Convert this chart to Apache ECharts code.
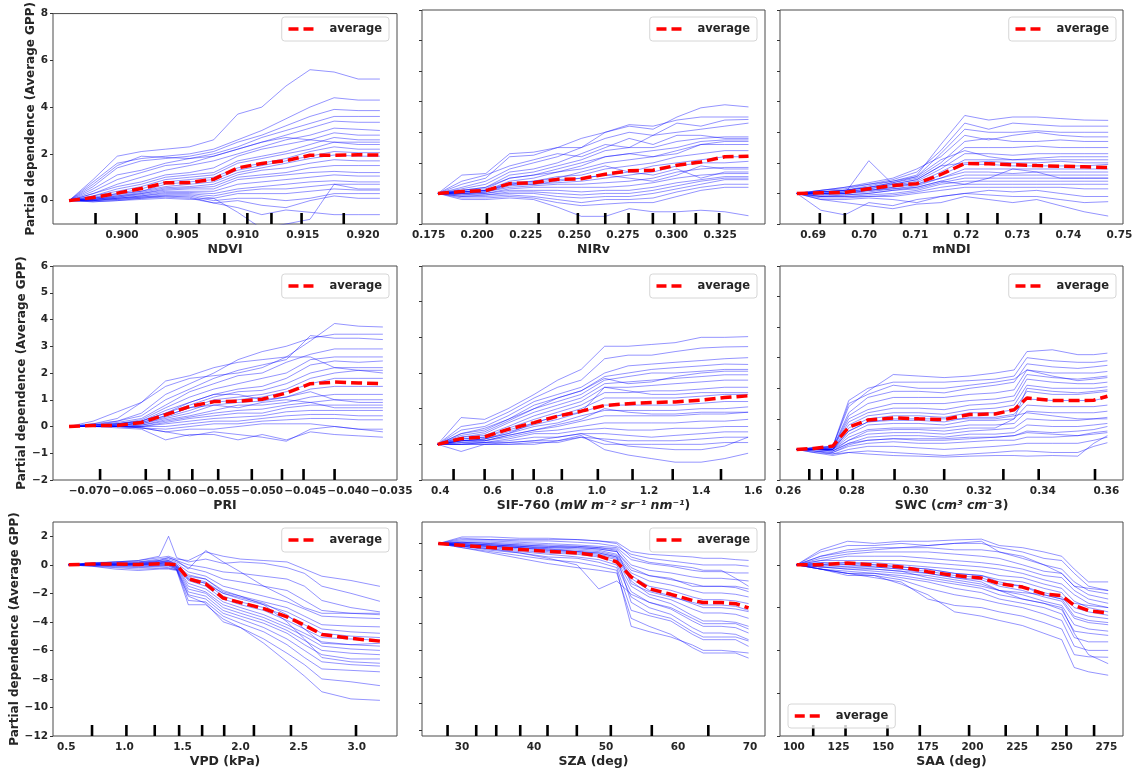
<!DOCTYPE html>
<html><head><meta charset="utf-8">
<script src="https://cdn.jsdelivr.net/npm/echarts@6/dist/echarts.min.js"></script>
<style>html,body{margin:0;padding:0;background:#fff}#c{width:1141px;height:774px}</style>
</head><body><div id="c"></div>
<script>
// ---------------- DATA ----------------
const yLabel = 'Partial dependence (Average GPP)';

// NDVI
const ndviX = [0.8956,0.8976,0.8996,0.9016,0.9036,0.9056,0.9076,0.9096,0.9116,0.9136,0.9156,0.9176,0.9196,0.9214];
const ndviAvg = [0,0.13,0.32,0.52,0.76,0.77,0.91,1.40,1.59,1.71,1.94,1.94,1.96,1.95];
const ndviIce = [
 [0,0.9,1.9,2.1,2.2,2.3,2.6,3.7,4.0,4.9,5.6,5.5,5.2,5.2],
 [0,0.8,1.6,1.8,1.9,2.0,2.2,2.6,3.0,3.5,4.0,4.4,4.3,4.3],
 [0,0.6,1.4,1.7,1.8,1.9,2.1,2.5,2.8,3.2,3.6,3.9,3.85,3.85],
 [0,0.5,1.1,1.3,1.6,1.8,2.0,2.3,2.7,3.0,3.3,3.6,3.6,3.6],
 [0,0.4,0.9,1.2,1.5,1.6,1.9,2.2,2.5,2.8,3.1,3.4,3.35,3.35],
 [0,0.3,0.7,1.0,1.3,1.5,1.7,2.0,2.3,2.6,2.8,3.1,3.05,3.0],
 [0,0.3,0.6,0.8,1.1,1.2,1.4,1.9,2.2,2.4,2.6,2.9,2.8,2.8],
 [0,0.2,0.5,0.7,1.0,1.1,1.2,1.7,1.9,2.1,2.4,2.7,2.6,2.6],
 [0,0.2,0.4,0.6,0.9,1.0,1.1,1.6,1.8,2.0,2.2,2.5,2.4,2.4],
 [0,0.15,0.3,0.5,0.8,0.9,1.0,1.4,1.6,1.8,2.1,2.3,2.2,2.2],
 [0,0.1,0.3,0.4,0.7,0.8,0.9,1.3,1.5,1.7,1.9,2.1,2.05,2.05],
 [0,0.1,0.25,0.4,0.6,0.7,0.8,1.2,1.4,1.6,1.8,1.95,1.9,1.9],
 [0,0.1,0.2,0.35,0.55,0.6,0.7,1.1,1.3,1.4,1.6,1.75,1.7,1.7],
 [0,0.05,0.2,0.3,0.5,0.55,0.6,1.0,1.1,1.2,1.4,1.5,1.5,1.5],
 [0,0.05,0.15,0.3,0.45,0.5,0.5,0.9,1.0,1.1,1.2,1.25,1.2,1.2],
 [0,0.05,0.15,0.25,0.4,0.4,0.4,0.7,0.8,0.9,1.0,1.1,1.05,1.05],
 [0,0.05,0.1,0.2,0.35,0.35,0.3,0.5,0.6,0.7,0.8,0.85,0.8,0.8],
 [0,0,0.1,0.2,0.3,0.3,0.2,0.4,0.5,0.5,0.6,0.7,0.7,0.7],
 [0,0,0.1,0.15,0.25,0.25,0.1,0.3,0.3,0.3,0.4,0.5,0.45,0.45],
 [0,0,0.05,0.15,0.2,0.2,0.0,0.1,0.1,0.0,0.1,0.3,0.3,0.3],
 [0,0,0.05,0.1,0.2,0.15,-0.1,0.0,-0.2,-0.3,0.0,0.2,0.1,0.1],
 [0,-0.05,0.0,0.1,0.15,0.1,-0.1,-0.3,-0.6,-0.4,-0.5,-0.6,-0.6,-0.6],
 [0,-0.05,0.0,0.05,0.1,0.05,0.1,-0.5,-1.2,-1.0,-0.8,0.7,0.5,0.5],
 [0,0.7,1.5,1.9,1.85,1.8,1.9,2.2,2.5,2.7,2.6,2.5,2.5,2.5]
];
const ndviDeciles = [0.8978,0.9012,0.9045,0.9064,0.9085,0.9104,0.9124,0.9149,0.9184];
const ndviTicks = [0.900,0.905,0.910,0.915,0.920];

// NIRv
const nirvX = [0.1798,0.1921,0.2044,0.2167,0.2290,0.2413,0.2536,0.2659,0.2782,0.2905,0.3028,0.3151,0.3274,0.3396];
const nirvAvg = [0,0.06,0.09,0.32,0.35,0.46,0.48,0.63,0.74,0.76,0.92,1.03,1.20,1.22];
const nirvIce = [
 [0,0.6,0.65,1.3,1.35,1.5,1.8,2.0,2.2,2.1,2.5,2.8,2.9,2.83],
 [0,0.3,0.5,1.2,1.25,1.5,1.5,2.0,2.25,2.2,2.4,2.5,2.5,2.5],
 [0,0.2,0.4,0.8,1.0,1.2,1.5,1.8,2.0,1.9,2.3,2.2,2.4,2.42],
 [0,0.15,0.3,0.7,0.8,1.0,1.3,1.6,1.5,1.9,2.0,2.1,2.2,2.3],
 [0,0.1,0.2,0.6,0.7,0.9,1.1,1.4,1.5,1.5,1.7,1.8,1.85,1.85],
 [0,0.1,0.15,0.5,0.6,0.8,1.0,1.2,1.3,1.4,1.5,1.7,1.75,1.75],
 [0,0.05,0.1,0.4,0.5,0.7,0.8,1.0,1.1,1.2,1.4,1.6,1.6,1.6],
 [0,0.05,0.1,0.35,0.4,0.55,0.6,0.8,0.9,1.0,1.2,1.3,1.4,1.4],
 [0,0.05,0.1,0.3,0.35,0.45,0.5,0.6,0.7,0.9,1.0,1.1,1.2,1.2],
 [0,0,0.05,0.25,0.3,0.35,0.4,0.5,0.6,0.7,0.9,1.0,1.0,1.05],
 [0,0,0.05,0.2,0.25,0.3,0.3,0.35,0.4,0.5,0.7,0.8,0.85,0.85],
 [0,0,0,0.15,0.2,0.2,0.2,0.2,0.25,0.35,0.5,0.6,0.65,0.65],
 [0,-0.05,0,0.1,0.1,0.1,0.05,0.1,0.1,0.2,0.35,0.45,0.55,0.55],
 [0,-0.05,-0.05,0.05,0.05,0,-0.05,0,0,0.1,0.25,0.4,0.5,0.5],
 [0,-0.1,-0.05,0,0,-0.1,-0.15,-0.1,-0.1,0,0.15,0.3,0.45,0.45],
 [0,-0.1,-0.1,-0.05,-0.1,-0.2,-0.3,-0.2,-0.2,-0.15,0.05,0.2,0.3,0.3],
 [0,-0.15,-0.15,-0.1,-0.15,-0.3,-0.4,-0.35,-0.3,-0.3,-0.1,0.1,0.2,0.2],
 [0,-0.2,-0.2,-0.15,-0.2,-0.45,-0.75,-0.75,-0.5,-0.6,-0.6,-0.55,-0.6,-0.73],
 [0,0.4,0.6,0.9,1.1,1.3,1.2,1.5,1.8,1.6,1.9,1.9,1.8,1.8],
 [0,0,0.05,0.3,0.4,0.5,0.7,0.9,0.7,0.6,0.8,0.5,0.7,0.7],
 [0,0.1,0.2,0.5,0.6,0.7,0.9,1.2,1.3,1.2,1.3,1.6,1.7,1.7],
 [0,0.05,0.1,0.3,0.3,0.4,0.5,0.6,0.5,0.4,0.6,0.9,0.8,0.8]
];
const nirvDeciles = [0.2050,0.2316,0.2518,0.2659,0.2779,0.2904,0.3014,0.3125,0.3245];
const nirvTicks = [0.175,0.200,0.225,0.250,0.275,0.300,0.325];

// mNDI
const mndiX = [0.6868,0.6915,0.6962,0.7009,0.7056,0.7103,0.7150,0.7197,0.7244,0.7291,0.7338,0.7384,0.7431,0.7478];
const mndiAvg = [0,0.02,0.03,0.15,0.26,0.32,0.62,0.98,0.97,0.94,0.91,0.89,0.87,0.85];
const mndiIce = [
 [0,0.1,0.2,0.3,0.4,0.6,1.6,2.55,2.4,2.5,2.5,2.45,2.4,2.39],
 [0,0.1,0.15,0.3,0.45,0.7,1.4,2.3,2.1,2.3,2.25,2.2,2.2,2.2],
 [0,0.05,0.1,0.25,0.4,0.55,1.3,2.1,2.0,2.0,2.05,2.0,2.0,2.0],
 [0,0.05,0.1,0.2,0.35,0.5,1.0,1.7,1.8,1.7,1.7,1.75,1.7,1.7],
 [0,0.05,0.1,0.2,0.3,0.45,0.9,1.5,1.5,1.5,1.55,1.5,1.5,1.5],
 [0,0,0.05,0.15,0.25,0.4,0.8,1.3,1.3,1.25,1.3,1.3,1.3,1.3],
 [0,0,0.05,0.1,0.2,0.35,0.7,1.1,1.1,1.1,1.1,1.1,1.1,1.1],
 [0,0,0,0.1,0.2,0.3,0.6,0.95,0.95,0.9,0.9,0.9,0.9,0.95],
 [0,0,0,1.07,0.3,0.3,0.5,0.8,0.8,0.8,0.8,0.8,0.8,0.8],
 [0,-0.05,0,0.05,0.15,0.25,0.5,0.7,0.7,0.65,0.7,0.7,0.7,0.7],
 [0,-0.05,-0.05,0,0.1,0.2,0.4,0.6,0.6,0.6,0.6,0.6,0.6,0.6],
 [0,-0.1,-0.05,0,0.1,0.15,0.35,0.5,0.5,0.5,0.5,0.5,0.5,0.5],
 [0,-0.1,-0.1,-0.05,0,0.1,0.3,0.4,0.4,0.4,0.4,0.4,0.4,0.4],
 [0,-0.1,-0.1,-0.1,-0.05,0.05,0.2,0.3,0.3,0.3,0.3,0.3,0.3,0.3],
 [0,-0.15,-0.15,-0.1,-0.1,0,0.1,0.2,0.2,0.2,0.2,0.2,0.15,0.15],
 [0,-0.2,-0.2,-0.15,-0.2,-0.3,-0.1,0,0.1,0.05,0.1,0,-0.1,-0.1],
 [0,-0.55,-0.7,-0.3,-0.4,-0.2,-0.1,0,-0.05,-0.1,-0.1,-0.2,-0.3,-0.27],
 [0,-0.2,-0.3,-0.4,-0.5,-0.35,-0.3,-0.1,-0.2,-0.3,-0.2,-0.4,-0.6,-0.74],
 [0,0.1,0.2,0.35,0.5,0.8,1.2,1.9,1.75,1.9,2.0,1.9,1.85,1.85],
 [0,0,0.05,0.15,0.3,0.45,0.9,1.0,1.05,1.0,1.0,1.05,1.0,1.0],
 [0,0.05,0.1,0.2,0.35,0.55,1.1,1.4,1.2,1.1,1.15,1.2,1.2,1.2],
 [0,0,0,0.1,0.15,0.2,0.4,0.3,0.5,0.8,0.7,0.5,0.5,0.5]
];
const mndiDeciles = [0.6913,0.6962,0.7017,0.7072,0.7123,0.7164,0.7203,0.7261,0.7346];
const mndiTicks = [0.69,0.70,0.71,0.72,0.73,0.74,0.75];

// PRI
const priX = [-0.0724,-0.0696,-0.0668,-0.0640,-0.0612,-0.0584,-0.0556,-0.0528,-0.0500,-0.0472,-0.0444,-0.0416,-0.0388,-0.0360];
const priAvg = [0,0.04,0.04,0.15,0.44,0.75,0.93,0.94,1.02,1.25,1.60,1.66,1.63,1.60];
const priIce = [
 [0,0.1,0.3,0.9,1.7,1.9,2.2,2.4,2.5,2.6,3.2,3.85,3.75,3.72],
 [0,0.1,0.2,0.5,1.2,1.6,2.0,2.5,2.8,3.0,3.3,3.45,3.45,3.45],
 [0,0.05,0.2,0.4,1.0,1.4,1.8,2.1,2.3,2.5,3.4,3.3,3.3,3.25],
 [0,0.05,0.15,0.3,0.8,1.3,1.6,1.9,2.0,2.4,2.7,2.9,2.9,2.9],
 [0,0.05,0.1,0.25,0.7,1.1,1.4,1.6,1.8,2.0,2.5,2.6,2.6,2.6],
 [0,0.05,0.1,0.2,0.6,0.9,1.2,1.4,1.5,1.8,2.3,2.45,2.4,2.45],
 [0,0,0.1,0.2,0.5,0.8,1.1,1.3,1.35,1.6,2.0,2.2,2.2,2.2],
 [0,0,0.05,0.15,0.4,0.7,1.0,1.1,1.2,1.4,1.8,2.0,2.1,2.0],
 [0,0,0.05,0.1,0.35,0.6,0.9,1.0,1.1,1.3,1.6,1.8,1.8,1.8],
 [0,0,0.05,0.1,0.3,0.5,0.8,0.9,0.95,1.1,1.4,1.5,1.5,1.5],
 [0,0,0,0.05,0.25,0.4,0.6,0.8,0.8,0.9,1.1,1.2,1.2,1.2],
 [0,0,0,0.05,0.2,0.35,0.5,0.6,0.65,0.8,0.9,1.0,1.0,1.0],
 [0,0,0,0,0.15,0.3,0.4,0.5,0.5,0.7,0.8,0.8,0.8,0.8],
 [0,0,0,0,0.1,0.2,0.3,0.35,0.4,0.55,0.6,0.6,0.6,0.6],
 [0,0,0,0,0,0.1,0.2,0.2,0.3,0.4,0.45,0.45,0.4,0.4],
 [0,0,0,-0.05,-0.1,0,0.1,0.1,0.2,0.25,0.3,0.3,0.25,0.25],
 [0,0,0,-0.05,-0.2,-0.1,-0.1,0,0.1,0.1,0.1,0,-0.1,-0.2],
 [0,0,-0.05,-0.1,-0.5,-0.3,-0.3,-0.5,-0.3,-0.5,-0.2,-0.3,-0.35,-0.4],
 [0,0,0,-0.05,-0.2,-0.35,-0.2,-0.3,-0.4,-0.55,-0.1,0,-0.1,-0.1],
 [0,0.2,0.55,0.9,1.5,1.8,1.9,2.0,2.2,2.6,2.6,2.2,2.1,2.1],
 [0,0.05,0.1,0.2,0.5,0.9,1.2,1.2,1.0,1.1,1.3,1.0,0.9,0.9],
 [0,0,0.05,0.15,0.4,0.7,0.8,0.7,0.9,1.0,0.9,0.7,0.7,0.7]
];
const priDeciles = [-0.0688,-0.0635,-0.0608,-0.0581,-0.0551,-0.0512,-0.0477,-0.0452,-0.0416];
const priTicks = [-0.070,-0.065,-0.060,-0.055,-0.050,-0.045,-0.040,-0.035];

// SIF-760
const sifX = [0.39,0.48,0.57,0.66,0.76,0.85,0.94,1.03,1.12,1.21,1.30,1.40,1.49,1.58];
const sifAvg = [0,0.16,0.21,0.42,0.61,0.79,0.93,1.09,1.14,1.17,1.19,1.24,1.31,1.36];
const sifIce = [
 [0,0.75,0.7,1.0,1.4,1.8,2.1,2.75,2.75,2.8,2.85,3.0,3.0,3.02],
 [0,0.5,0.6,0.9,1.3,1.6,1.8,2.4,2.5,2.5,2.6,2.7,2.73,2.74],
 [0,0.4,0.5,0.8,1.2,1.4,1.6,2.0,2.2,2.25,2.3,2.35,2.4,2.43],
 [0,0.3,0.45,0.7,1.1,1.3,1.5,1.9,2.0,2.1,2.15,2.2,2.25,2.24],
 [0,0.25,0.35,0.65,1.0,1.2,1.4,1.8,1.9,2.0,2.0,2.05,2.1,2.1],
 [0,0.2,0.3,0.6,0.9,1.1,1.3,1.7,1.75,1.8,1.85,1.9,1.95,1.95],
 [0,0.2,0.25,0.5,0.8,1.0,1.2,1.6,1.6,1.65,1.7,1.75,1.8,1.8],
 [0,0.15,0.2,0.45,0.7,0.9,1.1,1.45,1.45,1.5,1.5,1.55,1.6,1.6],
 [0,0.15,0.2,0.4,0.6,0.8,1.0,1.3,1.3,1.3,1.3,1.35,1.4,1.4],
 [0,0.1,0.15,0.35,0.55,0.7,0.9,1.1,1.1,1.1,1.1,1.15,1.2,1.2],
 [0,0.1,0.15,0.3,0.5,0.6,0.8,0.95,0.95,0.95,0.95,1.0,1.0,1.05],
 [0,0.1,0.1,0.25,0.4,0.5,0.65,0.8,0.8,0.8,0.8,0.85,0.85,0.9],
 [0,0.05,0.1,0.2,0.35,0.4,0.5,0.6,0.6,0.6,0.6,0.65,0.65,0.7],
 [0,0.05,0.05,0.15,0.3,0.3,0.4,0.45,0.4,0.4,0.45,0.45,0.5,0.5],
 [0,0,0.05,0.1,0.2,0.2,0.3,0.3,0.25,0.2,0.25,0.3,0.35,0.35],
 [0,-0.2,0,0.05,0.1,0.1,0.2,0.15,0.1,0.1,0.1,0.15,0.2,0.2],
 [0,0,0,0,0.05,0.05,0.2,0,0,0,0,0,0.05,0.05],
 [0,0,0,0,0,0.1,0.25,-0.15,-0.3,-0.4,-0.5,-0.5,-0.4,-0.25],
 [0,0,0.05,0.05,0.1,0.2,0.3,0.1,-0.05,-0.1,-0.15,-0.15,-0.05,0.2],
 [0,0.3,0.4,0.7,1.0,1.3,1.5,1.85,1.7,1.75,1.9,2.0,2.05,2.05],
 [0,0.1,0.15,0.3,0.6,0.8,0.9,1.6,1.5,1.4,1.4,1.45,1.45,1.45],
 [0,0.1,0.1,0.25,0.4,0.55,0.7,1.0,0.9,0.85,0.85,0.9,0.9,0.9]
];
const sifDeciles = [0.451,0.570,0.677,0.758,0.866,1.004,1.137,1.291,1.476];
const sifTicks = [0.4,0.6,0.8,1.0,1.2,1.4,1.6];

// SWC
const swcX = [0.2626,0.2680,0.2740,0.2790,0.2850,0.2930,0.3010,0.3090,0.3170,0.3250,0.3310,0.3350,0.3430,0.3510,0.3560,0.3603];
const swcAvg = [0,0.03,0.11,0.73,0.96,1.03,1.00,0.98,1.14,1.16,1.30,1.68,1.60,1.60,1.61,1.74];
const swcIce = [
 [0,0.05,0.1,1.4,1.9,2.45,2.4,2.35,2.4,2.5,2.6,3.2,3.26,3.1,3.1,3.15],
 [0,0.05,0.1,1.6,2.0,2.2,2.2,2.2,2.25,2.3,2.4,3.0,2.9,2.85,2.85,2.9],
 [0,0.05,0.05,1.2,1.7,1.9,1.9,1.85,2.0,2.1,2.2,2.8,2.7,2.65,2.7,2.75],
 [0,0.05,0.05,1.1,1.5,1.7,1.7,1.7,1.8,1.85,1.95,2.6,2.5,2.5,2.5,2.55],
 [0,0,0.05,1.0,1.3,1.5,1.5,1.5,1.6,1.65,1.75,2.45,2.35,2.3,2.35,2.4],
 [0,0,0.05,0.9,1.2,1.35,1.35,1.3,1.45,1.5,1.6,2.3,2.2,2.15,2.15,2.2],
 [0,0,0,0.8,1.1,1.2,1.2,1.15,1.3,1.35,1.45,2.1,2.0,2.0,2.0,2.05],
 [0,0,0,0.7,1.0,1.1,1.1,1.05,1.2,1.2,1.3,1.9,1.8,1.8,1.85,1.9],
 [0,0,0,0.6,0.9,0.95,0.95,0.9,1.05,1.05,1.15,1.65,1.6,1.6,1.6,1.7],
 [0,0,0,0.5,0.8,0.85,0.85,0.8,0.95,0.95,1.0,1.45,1.4,1.4,1.4,1.45],
 [0,0,0,0.4,0.65,0.7,0.7,0.7,0.8,0.8,0.85,1.25,1.2,1.2,1.2,1.25],
 [0,0,-0.05,0.3,0.5,0.55,0.55,0.5,0.6,0.65,0.7,1.0,0.95,0.95,1.0,1.05],
 [0,0,-0.05,0.2,0.4,0.45,0.45,0.4,0.5,0.5,0.55,0.8,0.75,0.75,0.8,0.85],
 [0,-0.05,-0.1,0.15,0.3,0.35,0.3,0.3,0.35,0.4,0.45,0.6,0.55,0.6,0.65,0.75],
 [0,-0.05,-0.1,0.1,0.2,0.25,0.2,0.2,0.25,0.3,0.3,0.4,0.4,0.45,0.5,0.55],
 [0,-0.05,-0.15,0,0.1,0.1,0.05,0,0.05,0.1,0.15,0.2,0.2,0.2,0.3,0.4],
 [0,-0.1,-0.15,-0.1,-0.05,-0.1,-0.15,-0.2,-0.15,-0.1,-0.05,-0.05,-0.1,-0.1,0.1,0.22],
 [0,-0.1,-0.2,-0.1,-0.15,-0.2,-0.22,-0.25,-0.22,-0.2,-0.2,-0.22,-0.2,-0.22,0.2,0.45],
 [0,0.05,0.1,1.5,1.8,2.1,2.0,2.0,2.1,2.2,2.3,2.6,2.4,2.25,2.3,2.35],
 [0,0,0,0.6,0.9,1.0,1.0,1.0,1.0,1.0,1.1,1.2,1.1,1.0,1.0,1.0],
 [0,0,0,0.3,0.6,0.65,0.65,0.6,0.7,0.7,1.0,2.0,1.9,1.85,1.9,1.95],
 [0,0,-0.05,0.2,0.3,0.35,0.35,0.35,0.4,0.4,0.45,0.55,0.5,0.45,0.55,0.6]
];
const swcDeciles = [0.2666,0.2705,0.2754,0.2803,0.2934,0.3090,0.3276,0.3387,0.3564];
const swcTicks = [0.26,0.28,0.30,0.32,0.34,0.36];

// VPD
const vpdX = [0.52,0.72,0.92,1.12,1.30,1.38,1.45,1.55,1.70,1.85,2.00,2.20,2.40,2.55,2.70,2.95,3.20];
const vpdAvg = [0,0.05,0.05,0.02,0.07,0.05,0,-0.98,-1.33,-2.33,-2.65,-3.07,-3.65,-4.23,-4.88,-5.16,-5.35];
const vpdIce = [
 [0,0.1,0.2,0.3,0.5,0.6,0.4,0.3,0.9,0.6,0.4,0.3,0.2,-0.3,-0.8,-1.1,-1.51],
 [0,0.15,0.2,0.3,0.6,2.0,0.5,0.2,0.4,0.1,0.2,0.1,-0.2,-0.6,-1.5,-2.0,-2.56],
 [0,0.1,0.15,0.2,0.4,0.5,0.3,0,-0.2,-0.5,-0.6,-0.8,-1.0,-1.5,-2.5,-3.0,-3.3],
 [0,0.1,0.1,0.15,0.3,0.4,0.2,-0.2,-0.5,-1.0,-1.2,-1.5,-1.8,-2.5,-3.2,-3.4,-3.5],
 [0,0.05,0.1,0.1,0.25,0.3,0.1,-0.5,-0.8,-1.5,-1.8,-2.2,-2.6,-3.1,-3.6,-3.7,-3.77],
 [0,0.05,0.05,0.1,0.2,0.25,0,-0.7,-1.0,-1.8,-2.2,-2.6,-3.0,-3.6,-4.2,-4.3,-4.35],
 [0,0.05,0.05,0.05,0.15,0.2,-0.1,-0.9,-1.2,-2.0,-2.4,-2.8,-3.3,-3.9,-4.5,-4.7,-4.8],
 [0,0.05,0.05,0.05,0.1,0.15,-0.1,-1.0,-1.3,-2.2,-2.6,-3.0,-3.6,-4.2,-4.8,-5.0,-5.1],
 [0,0,0,0,0.1,0.1,-0.15,-1.1,-1.5,-2.4,-2.8,-3.2,-3.9,-4.5,-5.1,-5.2,-5.28],
 [0,0,0,0,0.05,0.05,-0.2,-1.3,-1.7,-2.6,-3.0,-3.5,-4.2,-4.8,-5.4,-5.6,-5.7],
 [0,0,0,0,0,0,-0.2,-1.5,-1.9,-2.8,-3.2,-3.7,-4.4,-5.0,-5.7,-5.9,-6.0],
 [0,0,-0.05,-0.05,0,0,-0.25,-1.7,-2.0,-3.0,-3.4,-3.9,-4.6,-5.3,-6.0,-6.2,-6.3],
 [0,0,-0.05,-0.1,-0.05,-0.05,-0.3,-1.9,-2.2,-3.2,-3.6,-4.1,-4.8,-5.6,-6.3,-6.6,-6.6],
 [0,-0.05,-0.1,-0.15,-0.1,-0.1,-0.3,-2.1,-2.4,-3.4,-3.8,-4.4,-5.2,-6.0,-6.8,-7.0,-7.1],
 [0,-0.05,-0.15,-0.2,-0.15,-0.2,-0.35,-2.5,-2.6,-3.6,-4.1,-4.7,-5.6,-6.5,-7.3,-7.4,-7.5],
 [0,-0.1,-0.3,-0.4,-0.3,-0.3,-0.4,-2.8,-2.8,-3.8,-4.4,-5.2,-6.2,-7.0,-8.0,-8.2,-8.47],
 [0,-0.1,-0.2,-0.3,-0.25,-0.25,-0.35,-2.2,-2.7,-4.0,-4.4,-5.5,-6.8,-7.8,-8.9,-9.4,-9.5],
 [0,0.1,0.2,0.2,0.3,0.5,0.3,-0.3,1.0,0.2,-0.5,-1.5,-2.3,-3.0,-3.4,-3.4,-3.4],
 [0,0.05,0.05,0.1,0.2,0.3,0,-1.0,-1.3,-2.0,-2.3,-2.7,-3.5,-4.5,-5.5,-5.6,-5.5],
 [0,0,0,0.05,0.1,0.2,-0.1,-0.8,-1.0,-1.9,-2.2,-2.8,-4.0,-5.2,-6.5,-6.8,-6.9]
];
const vpdDeciles = [0.721,1.017,1.261,1.471,1.669,1.859,2.115,2.434,2.994];
const vpdTicks = [0.5,1.0,1.5,2.0,2.5,3.0];

// SZA
const szaX = [26.7,30,34,38,42,46,49,51.5,53.5,56,59,62,63.5,66,68,69.8];
const szaAvg = [0,-0.06,-0.15,-0.22,-0.29,-0.35,-0.46,-0.69,-1.25,-1.69,-1.90,-2.13,-2.21,-2.21,-2.25,-2.41];
const szaIce = [
 [0,0.25,0.25,0.2,0.2,0.15,0.1,0.05,-0.3,-0.4,-0.45,-0.5,-0.55,-0.55,-0.6,-0.63],
 [0,0.15,0.15,0.1,0.1,0.05,0,-0.1,-0.4,-0.55,-0.65,-0.75,-0.8,-0.8,-0.8,-0.85],
 [0,0.1,0.1,0.05,0,-0.05,-0.1,-0.15,-0.6,-0.75,-0.85,-1.0,-1.05,-1.05,-1.1,-1.1],
 [0,0.05,0.05,0,-0.05,-0.1,-0.15,-0.2,-0.8,-1.0,-1.1,-1.25,-1.3,-1.3,-1.35,-1.4],
 [0,0.05,0,-0.05,-0.1,-0.15,-0.2,-0.3,-1.0,-1.2,-1.35,-1.5,-1.6,-1.6,-1.6,-1.7],
 [0,0,-0.05,-0.1,-0.15,-0.2,-0.25,-0.4,-1.1,-1.4,-1.55,-1.75,-1.85,-1.85,-1.9,-2.0],
 [0,0,-0.05,-0.1,-0.2,-0.25,-0.3,-0.45,-1.2,-1.6,-1.75,-2.0,-2.1,-2.1,-2.15,-2.25],
 [0,-0.05,-0.1,-0.15,-0.2,-0.3,-0.35,-0.5,-1.3,-1.75,-1.95,-2.25,-2.4,-2.4,-2.45,-2.55],
 [0,-0.05,-0.1,-0.15,-0.25,-0.3,-0.4,-0.55,-1.4,-1.9,-2.1,-2.45,-2.6,-2.6,-2.65,-2.8],
 [0,-0.05,-0.1,-0.2,-0.3,-0.35,-0.45,-0.6,-1.6,-2.0,-2.25,-2.7,-2.9,-2.9,-2.95,-3.1],
 [0,-0.1,-0.15,-0.25,-0.35,-0.4,-0.5,-0.7,-1.8,-2.2,-2.45,-2.9,-3.1,-3.1,-3.15,-3.35],
 [0,-0.1,-0.2,-0.3,-0.4,-0.5,-0.6,-0.8,-2.0,-2.4,-2.65,-3.15,-3.35,-3.35,-3.4,-3.6],
 [0,-0.1,-0.25,-0.35,-0.5,-0.55,-0.7,-0.9,-2.5,-2.7,-2.9,-3.4,-3.6,-3.6,-3.6,-3.85],
 [0,-0.15,-0.3,-0.45,-0.6,-0.7,-0.85,-1.0,-3.1,-3.3,-3.5,-3.8,-4.0,-4.0,-4.05,-4.1],
 [0,-0.15,-0.35,-0.55,-0.75,-0.9,-1.0,-1.1,-2.8,-3.1,-3.4,-3.9,-4.1,-4.1,-4.1,-4.29],
 [0,-0.1,-0.2,-0.35,-0.55,-0.8,-1.7,-1.4,-1.9,-2.2,-2.4,-2.8,-3.0,-3.0,-3.0,-3.2],
 [0,0.2,0.15,0.15,0.15,0.15,0.1,0,-0.5,-0.7,-0.8,-0.9,-1.0,-1.0,-1.3,-1.6],
 [0,0.05,0,-0.05,-0.1,-0.1,-0.15,-0.25,-1.5,-1.8,-2.0,-2.2,-2.3,-2.3,-2.35,-2.5],
 [0,0,-0.05,-0.1,-0.15,-0.15,-0.2,-0.3,-0.9,-1.2,-1.3,-1.6,-1.6,-1.6,-1.65,-1.8],
 [0,-0.05,-0.1,-0.15,-0.25,-0.3,-0.35,-0.5,-2.2,-2.6,-2.8,-3.3,-3.5,-3.5,-3.5,-3.65]
];
const szaDeciles = [28.0,31.98,34.76,38.09,41.88,45.95,50.67,56.36,64.21];
const szaTicks = [30,40,50,60,70];

// SAA
const saaX = [101.5,115,130,145,160,175,190,205,215,228,240,250,257,265,276];
const saaAvg = [0,0,0.04,0,-0.05,-0.16,-0.25,-0.31,-0.44,-0.52,-0.68,-0.72,-0.95,-1.07,-1.13];
const saaIce = [
 [0,0.35,0.55,0.5,0.55,0.55,0.58,0.6,0.45,0.4,0.3,0.2,-0.1,-0.4,-0.4],
 [0,0.3,0.45,0.45,0.5,0.45,0.5,0.5,0.4,0.3,0.15,0.1,-0.2,-0.5,-0.6],
 [0,0.2,0.35,0.4,0.4,0.4,0.35,0.35,0.3,0.15,0,-0.1,-0.4,-0.6,-0.68],
 [0,0.15,0.25,0.3,0.3,0.3,0.25,0.2,0.15,0,-0.15,-0.2,-0.5,-0.7,-0.8],
 [0,0.1,0.2,0.2,0.2,0.15,0.1,0.05,0,-0.1,-0.25,-0.3,-0.6,-0.8,-0.9],
 [0,0.1,0.1,0.1,0.1,0.05,0,-0.05,-0.1,-0.2,-0.35,-0.45,-0.7,-0.9,-1.0],
 [0,0.05,0.05,0.05,0,-0.05,-0.1,-0.15,-0.25,-0.3,-0.45,-0.55,-0.85,-1.0,-1.1],
 [0,0,0,0,-0.05,-0.1,-0.2,-0.25,-0.35,-0.4,-0.55,-0.65,-1.0,-1.1,-1.18],
 [0,0,-0.05,-0.05,-0.1,-0.15,-0.25,-0.3,-0.45,-0.5,-0.65,-0.75,-1.1,-1.2,-1.26],
 [0,-0.05,-0.1,-0.1,-0.15,-0.2,-0.3,-0.35,-0.5,-0.6,-0.75,-0.85,-1.25,-1.35,-1.4],
 [0,-0.05,-0.1,-0.15,-0.2,-0.25,-0.35,-0.45,-0.6,-0.7,-0.85,-0.95,-1.4,-1.5,-1.55],
 [0,-0.1,-0.15,-0.2,-0.25,-0.35,-0.45,-0.55,-0.7,-0.8,-0.9,-1.05,-1.55,-1.6,-1.65],
 [0,-0.1,-0.2,-0.2,-0.3,-0.4,-0.55,-0.65,-0.8,-0.9,-1.0,-1.15,-1.7,-1.8,-1.8],
 [0,-0.1,-0.25,-0.25,-0.35,-0.55,-0.7,-0.8,-0.9,-1.0,-1.15,-1.3,-1.9,-2.0,-2.0],
 [0,-0.1,-0.2,-0.3,-0.4,-0.8,-0.95,-1.0,-1.1,-1.2,-1.35,-1.5,-2.1,-2.15,-2.16],
 [0,-0.1,-0.2,-0.25,-0.45,-0.7,-1.1,-1.2,-1.3,-1.42,-1.6,-1.75,-2.4,-2.5,-2.58],
 [0,0.05,0,-0.05,-0.1,-0.2,-0.3,-0.4,-0.6,-0.8,-0.9,-1.0,-1.6,-2.1,-2.31],
 [0,0.2,0.3,0.35,0.4,0.45,0.5,0.55,0.3,0.2,0,-0.2,-0.5,-0.55,-0.6],
 [0,0,0.05,0,-0.05,-0.1,-0.2,-0.25,-0.4,-0.5,-0.7,-0.8,-0.9,-0.95,-1.0],
 [0,-0.05,-0.05,-0.1,-0.15,-0.3,-0.4,-0.5,-0.6,-0.65,-0.7,-0.8,-1.2,-1.3,-1.35]
];
const saaDeciles = [110.8,128.9,152.4,170.5,198.1,218.6,236.4,252.6,268.1];
const saaTicks = [100,125,150,175,200,225,250,275];

// ---------------- LAYOUT ----------------
const FONT = 'DejaVu Sans';
const TXT = '#262626';
const colLeft = [53, 422, 780];
const colWidth = [344, 343, 343];
const rowTop = [10, 266, 522];
const rowHeight = [214, 214, 214];
const yNameGap = [11, 16, 27];

const panels = [
 {x:ndviX, ice:ndviIce, avg:ndviAvg, dec:ndviDeciles, xt:ndviTicks, xd:3, xmin:0.89427, xmax:0.92282, ymin:-1, ymax:8, yt:[0,2,4,6,8], name:'NDVI', leg:{right:752, top:17}},
 {x:nirvX, ice:nirvIce, avg:nirvAvg, dec:nirvDeciles, xt:nirvTicks, xd:3, xmin:0.1716, xmax:0.3481, ymin:-1, ymax:6, yt:[-1,0,1,2,3,4,5,6], name:'NIRv', leg:{right:384, top:17}},
 {x:mndiX, ice:mndiIce, avg:mndiAvg, dec:mndiDeciles, xt:mndiTicks, xd:2, xmin:0.6835, xmax:0.7507, ymin:-1, ymax:6, yt:[-1,0,1,2,3,4,5,6], name:'mNDI', leg:{right:25, top:17}},
 {x:priX, ice:priIce, avg:priAvg, dec:priDeciles, xt:priTicks, xd:3, xmin:-0.07426, xmax:-0.03436, ymin:-2, ymax:6, yt:[-2,-1,0,1,2,3,4,5,6], name:'PRI', leg:{right:752, top:274}},
 {x:sifX, ice:sifIce, avg:sifAvg, dec:sifDeciles, xt:sifTicks, xd:1, xmin:0.33, xmax:1.6447, ymin:-1, ymax:5, yt:[-1,0,1,2,3,4,5], name:'{b|SIF-760 (}{i|mW m⁻² sr⁻¹ nm⁻¹}{b|)}', leg:{right:384, top:274}},
 {x:swcX, ice:swcIce, avg:swcAvg, dec:swcDeciles, xt:swcTicks, xd:2, xmin:0.2574, xmax:0.3652, ymin:-1, ymax:6, yt:[-1,0,1,2,3,4,5,6], name:'{b|SWC (}{i|cm³ cm}{b|⁻3)}', leg:{right:25, top:274}},
 {x:vpdX, ice:vpdIce, avg:vpdAvg, dec:vpdDeciles, xt:vpdTicks, xd:1, xmin:0.385, xmax:3.347, ymin:-12, ymax:3, yt:[-12,-10,-8,-6,-4,-2,0,2], name:'VPD (kPa)', leg:{right:752, top:528}},
 {x:szaX, ice:szaIce, avg:szaAvg, dec:szaDeciles, xt:szaTicks, xd:0, xmin:24.45, xmax:72.08, ymin:-7.21, ymax:0.81, yt:[-7,-6,-5,-4,-3,-2,-1,0], name:'SZA (deg)', leg:{right:384, top:528}},
 {x:saaX, ice:saaIce, avg:saaAvg, dec:saaDeciles, xt:saaTicks, xd:0, xmin:92.2, xmax:284.3, ymin:-4, ymax:1, yt:[-4,-3,-2,-1,0,1], name:'SAA (deg)', leg:{left:788, top:704}}
];

const fmt = (v, d) => { const s = Math.abs(v).toFixed(d); return v < 0 ? '\u2212' + s : s; };

const grid = [], xAxis = [], yAxis = [], series = [], legend = [];
panels.forEach((p, i) => {
  const r = Math.floor(i / 3), c = i % 3;
  grid.push({left: colLeft[c], top: rowTop[r], width: colWidth[c], height: rowHeight[r],
    show: true, borderColor: '#4a4a4a', borderWidth: 1, backgroundColor: '#fff', containLabel: false});
  xAxis.push({type: 'value', gridIndex: i, min: p.xmin, max: p.xmax,
    name: p.name, nameLocation: 'middle', nameGap: 19,
    nameTextStyle: {fontFamily: FONT, fontWeight: 'bold', fontSize: 12.5, color: TXT,
      rich: {b: {fontFamily: FONT, fontWeight: 'bold', fontSize: 12.5, color: TXT},
             i: {fontFamily: FONT, fontWeight: 'bold', fontStyle: 'italic', fontSize: 12.5, color: TXT}}},
    axisLine: {show: false}, axisTick: {show: false}, splitLine: {show: false},
    axisLabel: {customValues: p.xt, formatter: v => fmt(v, p.xd), fontFamily: FONT, fontWeight: 'bold',
      fontSize: 10.5, color: TXT, margin: 6, hideOverlap: false, showMinLabel: true, showMaxLabel: true}
  });
  yAxis.push({type: 'value', gridIndex: i, min: p.ymin, max: p.ymax,
    name: c === 0 ? yLabel : '', nameLocation: 'middle', nameGap: yNameGap[r],
    nameTextStyle: {fontFamily: FONT, fontWeight: 'bold', fontSize: 12, color: TXT},
    axisLine: {show: false}, splitLine: {show: false},
    axisTick: {show: true, customValues: p.yt, length: 3, lineStyle: {color: '#333', width: 1}},
    axisLabel: {show: c === 0, customValues: p.yt, formatter: v => fmt(v, 0), fontFamily: FONT,
      fontWeight: 'bold', fontSize: 10.5, color: TXT, margin: 5}
  });
  p.ice.forEach((ys, k) => {
    series.push({type: 'line', name: 'ice' + i + '_' + k, xAxisIndex: i, yAxisIndex: i,
      data: p.x.map((xv, j) => [xv, ys[j]]), symbol: 'none', silent: true, z: 2,
      lineStyle: {color: 'rgba(0,0,255,0.42)', width: 1}, emphasis: {disabled: true}});
  });
  series.push({type: 'line', name: 'average', xAxisIndex: i, yAxisIndex: i,
    data: p.x.map((xv, j) => [xv, p.avg[j]]), symbol: 'none', silent: true, z: 5,
    itemStyle: {color: '#ff0000'},
    lineStyle: {color: '#ff0000', width: 3.5, type: [11, 5]}, emphasis: {disabled: true}});
  series.push({type: 'scatter', name: 'deciles' + i, xAxisIndex: i, yAxisIndex: i,
    data: p.dec.map(d => [d, p.ymin]), symbol: 'rect', symbolSize: [2.6, 11], symbolOffset: [0, '-50%'],
    itemStyle: {color: '#000', opacity: 1}, silent: true, z: 4, clip: false});
  legend.push(Object.assign({
    data: ['average'], orient: 'vertical', selectedMode: false,
    itemWidth: 26, itemHeight: 12, itemGap: 0,
    padding: [6, 7, 6, 5], backgroundColor: 'rgba(255,255,255,0.8)',
    borderColor: '#d6d6d6', borderWidth: 1, borderRadius: 3,
    itemStyle: {opacity: 0},
    lineStyle: {color: '#ff0000', width: 3.5, type: [10, 5]},
    textStyle: {fontFamily: FONT, fontWeight: 'bold', fontSize: 11.5, color: TXT, padding: [0, 0, 0, 10]},
    z: 10
  }, p.leg));
});

const chart = echarts.init(document.getElementById('c'), null, {renderer: 'canvas'});
chart.setOption({backgroundColor: '#fff', animation: false, grid, xAxis, yAxis, series, legend});
</script></body></html>
